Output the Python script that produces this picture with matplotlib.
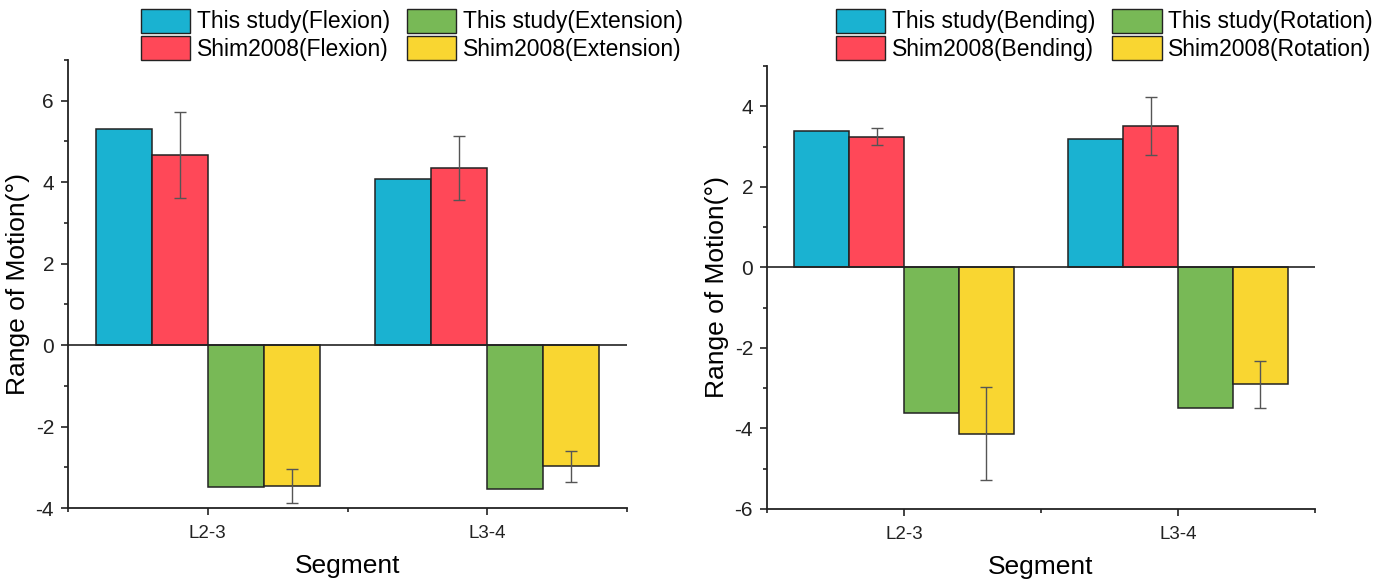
import matplotlib
matplotlib.use("Agg")
import matplotlib.pyplot as plt
import numpy as np
from matplotlib.patches import Patch
from matplotlib.ticker import MultipleLocator, FixedLocator

plt.rcParams['font.family'] = ['Liberation Sans', 'DejaVu Sans']
plt.rcParams['axes.unicode_minus'] = False

segments = ["L2-3", "L3-4"]

# Left panel: flexion / extension
left_labels = ["This study(Flexion)", "Shim2008(Flexion)", "This study(Extension)", "Shim2008(Extension)"]
left_study_flex = [5.30, 4.09]
left_shim_flex = [4.67, 4.35]
left_shim_flex_err = [1.05, 0.78]
left_study_ext = [-3.48, -3.53]
left_shim_ext = [-3.46, -2.97]
left_shim_ext_err = [0.42, 0.38]

# Right panel: bending / rotation
right_labels = ["This study(Bending)", "Shim2008(Bending)", "This study(Rotation)", "Shim2008(Rotation)"]
right_study_bend = [3.39, 3.19]
right_shim_bend = [3.24, 3.50]
right_shim_bend_err = [0.21, 0.72]
right_study_rot = [-3.61, -3.50]
right_shim_rot = [-4.13, -2.90]
right_shim_rot_err = [1.16, 0.58]

colors = ["#1AB2D1", "#FF4858", "#78B956", "#F9D631"]
edge = "#222222"
err_color = "#555555"

fig = plt.figure(figsize=(13.91, 5.81), dpi=100)
W, H = 1391, 581

def ax_at(x0, x1, ytop, ybot):
    return fig.add_axes([x0 / W, (H - ybot) / H, (x1 - x0) / W, (ybot - ytop) / H])

axL = ax_at(68, 627, 60, 508)
axR = ax_at(767, 1315, 66, 509)

def draw(ax, series, errs, ylim, major, labels, legend_x):
    x = np.arange(len(segments))
    w = 0.2
    offs = [-0.3, -0.1, 0.1, 0.3]
    for i, (vals, err) in enumerate(zip(series, errs)):
        ax.bar(x + offs[i], vals, width=w, color=colors[i], edgecolor=edge, linewidth=1.1, zorder=2)
        if err is not None:
            ax.errorbar(x + offs[i], vals, yerr=err, fmt='none', ecolor=err_color,
                        elinewidth=1.0, capsize=4, capthick=1.0, zorder=3)
    ax.axhline(0, color="#222222", linewidth=1.2, zorder=4)
    ax.set_xlim(-0.5, 1.5)
    ax.set_ylim(*ylim)
    for s in ["top", "right"]:
        ax.spines[s].set_visible(False)
    for s in ["left", "bottom"]:
        ax.spines[s].set_linewidth(1.3)
        ax.spines[s].set_color("#222222")
    ax.set_xticks(x)
    ax.set_xticklabels(segments, fontsize=13.5)
    ax.xaxis.set_minor_locator(FixedLocator([-0.5, 0.5, 1.5]))
    ax.yaxis.set_major_locator(MultipleLocator(major))
    ax.yaxis.set_minor_locator(MultipleLocator(major / 2))
    ax.tick_params(axis='both', which='major', direction='out', length=5, width=1.2, colors="#222222",
                   labelcolor="#222222")
    ax.tick_params(axis='y', which='major', labelsize=15, pad=5)
    ax.tick_params(axis='both', which='minor', direction='out', length=3, width=1.2, colors="#222222")
    ax.tick_params(axis='x', which='major', pad=7)
    ax.set_xlabel("Segment", fontsize=19, labelpad=9)
    ax.set_ylabel("Range of Motion(°)", fontsize=19, labelpad=4)
    handles = [Patch(facecolor=colors[i], edgecolor=edge, linewidth=1.0) for i in range(4)]
    fig.legend(handles, labels, ncol=2, loc='upper left',
               bbox_to_anchor=(legend_x / W, 1 - 4 / H), frameon=False,
               fontsize=16.5, handlelength=2.15, handleheight=1.25,
               handletextpad=0.3, columnspacing=0.75, labelspacing=0.1,
               borderpad=0.2, borderaxespad=0)

draw(axL, [left_study_flex, left_shim_flex, left_study_ext, left_shim_ext],
     [None, left_shim_flex_err, None, left_shim_ext_err], (-4, 7), 2, left_labels, 136)
draw(axR, [right_study_bend, right_shim_bend, right_study_rot, right_shim_rot],
     [None, right_shim_bend_err, None, right_shim_rot_err], (-6, 5), 2, right_labels, 831)

fig.savefig("out.png", dpi=100)
